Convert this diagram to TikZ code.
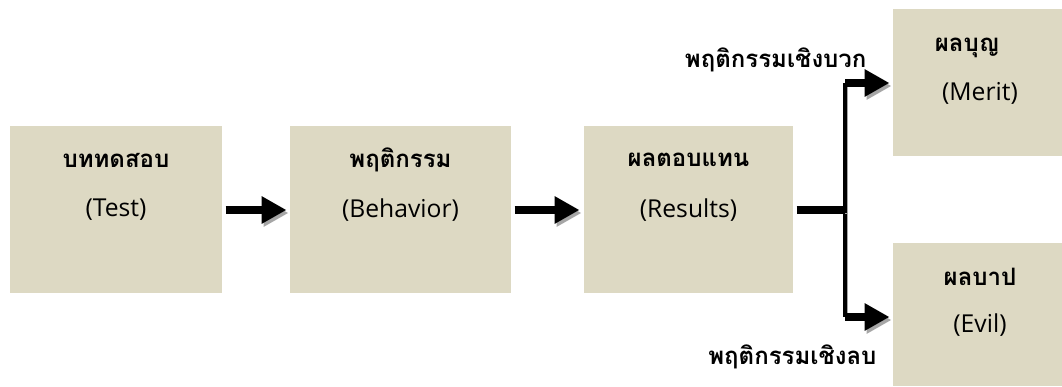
\documentclass[tikz,border=0pt]{standalone}
\usepackage{fontspec}
\setmainfont{Open Sans}
\newfontfamily\thaifont[Script=Thai]{Loma}
\usetikzlibrary{arrows.meta}
\definecolor{boxtan}{HTML}{DDD9C3}
\definecolor{shadowgray}{HTML}{A6A6A6}

\tikzset{every picture/.style={line width=0.75pt}}
\tikzset{
  box/.style={fill=boxtan, inner sep=0pt, minimum height=125.25pt},
  thaititle/.style={inner sep=0.75pt, font=\thaifont\bfseries\fontsize{18}{20}\selectfont},
  engtext/.style={inner sep=0.75pt, font=\fontsize{18.5}{20}\selectfont},
  shadowed/.style={preaction={draw=shadowgray, transform canvas={shift={(2,-3)}}}},
  bigarrow/.style={line width=6pt, -{Triangle[length=18.75pt,width=19.5pt]}, shadowed},
  thickline/.style={line width=6pt, shadowed},
  thinline/.style={line width=2.6pt, shadowed}
}

\begin{document}
\begin{tikzpicture}[x=0.75pt,y=0.75pt,yscale=-1,xscale=1]
\useasboundingbox (0,0) rectangle (1062,386);

%Shape: Rectangle [id:test]
\node [box, minimum width=159pt] (test) at (116,209.5) {};
%Shape: Rectangle [id:behavior]
\node [box, minimum width=165.75pt] (behavior) at (400.5,209.5) {};
%Shape: Rectangle [id:results]
\node [box, minimum width=156.75pt] (results) at (688.5,209.5) {};
%Shape: Rectangle [id:merit]
\node [box, minimum width=126.75pt, minimum height=110.25pt] (merit) at (977.5,82.5) {};
%Shape: Rectangle [id:evil]
\node [box, minimum width=126.75pt, minimum height=107.25pt] (evil) at (977.5,314.5) {};

%Coordinates of the fork
\coordinate (fork) at (845,210);
\coordinate (forktop) at (845,83);
\coordinate (forkbot) at (845,317);

%Straight Lines [id:fork]
\draw [thinline] (forktop) -- (forkbot) ;
\draw [thickline] (forktop) -- ++(5,0) ;
\draw [thickline] (forkbot) -- ++(5,0) ;
\draw [thickline, shorten <=2.25pt] (results.east |- fork) -- (fork) ;
%Arrows
\draw [bigarrow, shorten <=2.25pt, shorten >=2.25pt] (test.east |- fork) -- (behavior.west |- fork) ;
\draw [bigarrow, shorten <=2.25pt, shorten >=3pt] (behavior.east |- fork) -- (results.west |- fork) ;
\draw [bigarrow, shorten >=2.25pt] (forktop) -- (merit.west |- forktop) ;
\draw [bigarrow, shorten >=2.25pt] (forkbot) -- (evil.west |- forkbot) ;

% Text Node
\node [thaititle] (testth) at (116,160) {บททดสอบ};
% Text Node
\node [engtext] (testen) at (116,210) {(Test)};
% Text Node
\node [thaititle] (behaviorth) at (400.5,160) {พฤติกรรม};
% Text Node
\node [engtext] (behavioren) at (400.5,210) {(Behavior)};
% Text Node
\node [thaititle] (resultsth) at (688.5,160) {ผลตอบแทน};
% Text Node
\node [engtext] (resultsen) at (688.5,210) {(Results)};
% Text Node
\node [thaititle] (meritth) at (967,48) {ผลบุญ};
% Text Node
\node [engtext] (meriten) at (980,93) {(Merit)};
% Text Node
\node [thaititle] (evilth) at (980,277) {ผลบาป};
% Text Node
\node [engtext] (evilen) at (980,325) {(Evil)};
% Text Node
\node [thaititle, anchor=east] (poslabel) at (868,60) {พฤติกรรมเชิงบวก};
% Text Node
\node [thaititle, anchor=east] (neglabel) at (878,357) {พฤติกรรมเชิงลบ};
\end{tikzpicture}
\end{document}
